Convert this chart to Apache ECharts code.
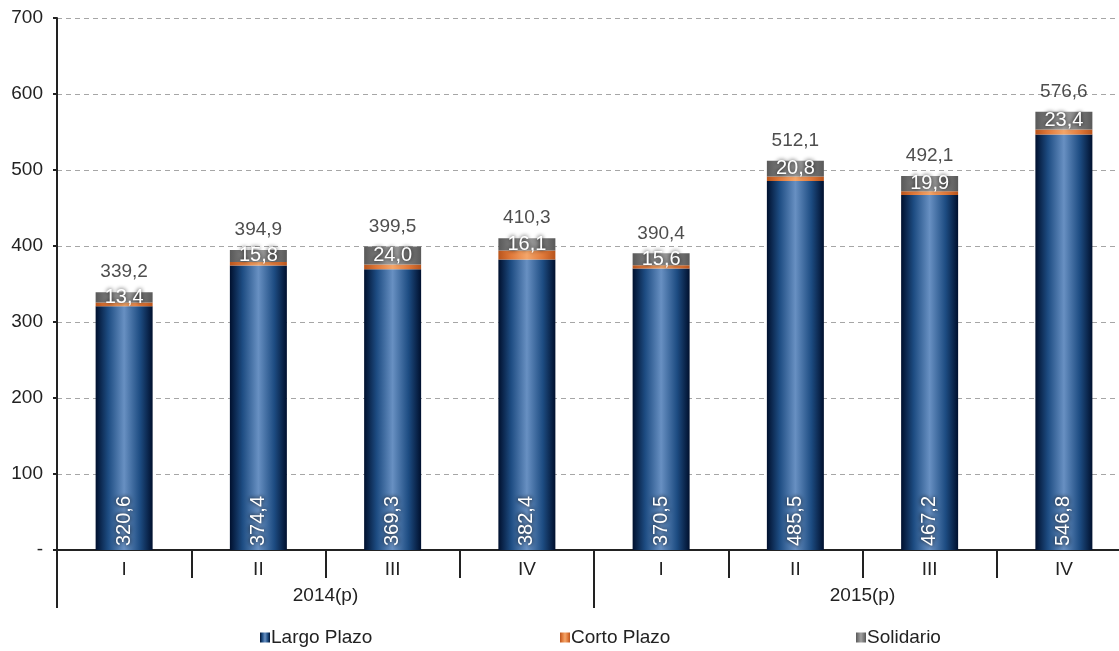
<!DOCTYPE html>
<html>
<head>
<meta charset="utf-8">
<script src="https://cdn.jsdelivr.net/npm/echarts@6/dist/echarts.min.js"></script>
<style>
html,body{margin:0;padding:0;background:#fff;}
#chart{width:1119px;height:651px;}
</style>
</head>
<body>
<div id="chart"></div>
<script>
const quarters = ['I','II','III','IV','I','II','III','IV'];
const years = ['2014(p)','2015(p)'];
const seriesNames = ['Largo Plazo', 'Corto Plazo', 'Solidario'];
const largoPlazo = [320.6, 374.4, 369.3, 382.4, 370.5, 485.5, 467.2, 546.8];
const cortoPlazo = [5.2, 4.7, 6.2, 11.8, 4.3, 5.8, 5.0, 6.4];
const solidario = [13.4, 15.8, 24.0, 16.1, 15.6, 20.8, 19.9, 23.4];
const totals = [339.2, 394.9, 399.5, 410.3, 390.4, 512.1, 492.1, 576.6];
const yTicks = [0, 100, 200, 300, 400, 500, 600, 700];

const FONT = "'Liberation Sans Narrow','Arial Narrow','Liberation Sans',Arial,sans-serif";
const fmt = v => Number(v).toFixed(1).replace('.', ',');

function grad(edge, mid, center) {
  return new echarts.graphic.LinearGradient(0, 0, 1, 0, [
    {offset: 0, color: edge},
    {offset: 0.22, color: mid},
    {offset: 0.5, color: center},
    {offset: 0.78, color: mid},
    {offset: 1, color: edge}
  ]);
}

const chart = echarts.init(document.getElementById('chart'), null, {renderer: 'canvas'});
const whiteLabel = {
  color: '#fff', fontFamily: FONT, fontSize: 20,
  textShadowColor: 'rgba(0,0,0,0.95)', textShadowBlur: 4
};
const legendLefts = [255, 555, 851];
const legends = seriesNames.map((n, i) => ({
  top: 623, left: legendLefts[i], itemWidth: 10, itemHeight: 10, icon: 'rect',
  itemGap: 0,
  textStyle: {fontFamily: FONT, fontSize: 19, color: '#222', padding: [0,0,0,-4]},
  data: [n]
}));

chart.setOption({
  animation: false,
  backgroundColor: '#fff',
  textStyle: {fontFamily: FONT},
  grid: {left: 57, top: 18, bottom: 101, right: -12, containLabel: false, outerBoundsMode: 'none'},
  legend: legends,
  xAxis: [
    {
      type: 'category', data: quarters, position: 'bottom',
      axisLine: {show: true, lineStyle: {color: '#222', width: 2}},
      axisTick: {show: true, interval: 0, length: 28, lineStyle: {color: '#222', width: 2}},
      axisLabel: {interval: 0, margin: 10, fontFamily: FONT, fontSize: 19, color: '#222'}
    },
    {
      type: 'category', data: years, position: 'bottom',
      axisLine: {show: false},
      axisTick: {show: true, interval: 0, length: 58, lineStyle: {color: '#222', width: 2}},
      axisLabel: {interval: 0, margin: 36, fontFamily: FONT, fontSize: 19, color: '#222'}
    }
  ],
  yAxis: {
    type: 'value', min: yTicks[0], max: yTicks[yTicks.length - 1], interval: 100,
    axisLine: {show: true, lineStyle: {color: '#222', width: 2}},
    axisTick: {show: true, length: 4, lineStyle: {color: '#222', width: 2}},
    axisLabel: {margin: 14, fontFamily: FONT, fontSize: 19, color: '#222',
      formatter: v => v === 0 ? '-' : String(v)},
    splitLine: {show: true, lineStyle: {color: '#a6a6a6', type: [5, 4], width: 1}}
  },
  series: [
    {
      name: seriesNames[0], type: 'bar', stack: 's', barWidth: 57,
      data: largoPlazo,
      itemStyle: {color: grad('#00102e', '#1d4c82', '#6890c2')},
      label: Object.assign({
        show: true, position: 'insideBottom', rotate: 90, align: 'left',
        verticalAlign: 'middle', distance: 4, formatter: p => fmt(p.value)
      }, whiteLabel)
    },
    {
      name: seriesNames[1], type: 'bar', stack: 's', barWidth: 57,
      data: cortoPlazo,
      itemStyle: {color: grad('#b8541c', '#e0793a', '#f4a66a')}
    },
    {
      name: seriesNames[2], type: 'bar', stack: 's', barWidth: 57,
      data: solidario,
      itemStyle: {color: grad('#595959', '#7a7a7a', '#a2a2a2')},
      label: Object.assign({
        show: true, position: 'inside', formatter: p => fmt(p.value)
      }, whiteLabel)
    },
    {
      name: 'Total', type: 'scatter', data: totals, symbolSize: 1,
      itemStyle: {color: 'rgba(0,0,0,0)'},
      label: {show: true, position: 'top', distance: 10, fontFamily: FONT,
        fontSize: 19, color: '#222', formatter: p => fmt(p.value)},
      silent: true
    }
  ]
});
</script>
</body>
</html>
